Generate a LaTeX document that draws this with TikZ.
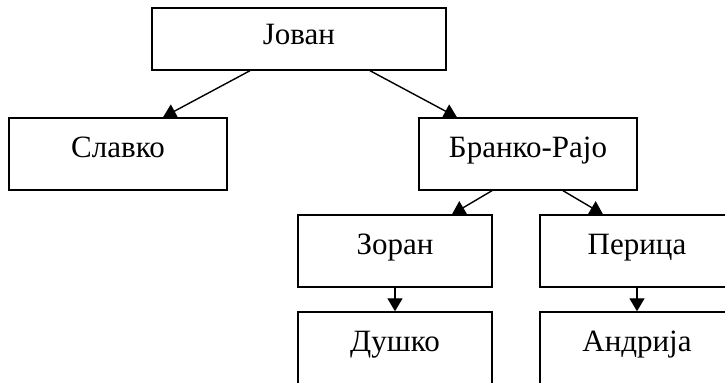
\documentclass[tikz,border=0pt]{standalone}
\usepackage{fontspec}
\setmainfont{Liberation Serif}
\usetikzlibrary{arrows.meta,calc}
\tikzstyle{person} = [draw, rectangle, line width=0.7pt, inner sep=0pt, minimum width=109pt, minimum height=36pt, text height=0.7em, text depth=0.32em, font=\fontsize{15.5}{18}\selectfont]
\tikzstyle{link} = [line width=0.7pt, -{Triangle[width=7.5pt,length=6.5pt]}]

\begin{document}
\begin{tikzpicture}[x=0.5pt,y=-0.5pt]
  \useasboundingbox (0,0) rectangle (725,383);
  \clip (-1,-1) rectangle (725,383);
  % family tree
  \node[person, minimum width=147pt, minimum height=31pt, text depth=0.12em] (jovan) at (299,39) {Јован};
  \node[person] (slavko) at (118,154) {Славко};
  \node[person] (branko) at (528,154) {Бранко-Рајо};
  \node[person, minimum width=97pt] (zoran) at (395,251) {Зоран};
  \node[person, minimum width=97pt] (perica) at (637,251) {Перица};
  \node[person, minimum width=97pt] (dusko) at (395,348) {Душко};
  \node[person, minimum width=97pt] (andrija) at (637,348) {Андрија};
  \draw[link] ($(jovan.south)+(-49,0)$) -- ($(slavko.north)+(45,0)$);
  \draw[link] ($(jovan.south)+(71,0)$) -- ($(branko.north)+(-71,0)$);
  \draw[link] ($(branko.south)+(-36,0)$) -- ($(zoran.north)+(57,0)$);
  \draw[link] ($(branko.south)+(35,0)$) -- ($(perica.north)+(-34,0)$);
  \draw[link] (zoran) -- (dusko);
  \draw[link] (perica) -- (andrija);
\end{tikzpicture}
\end{document}
